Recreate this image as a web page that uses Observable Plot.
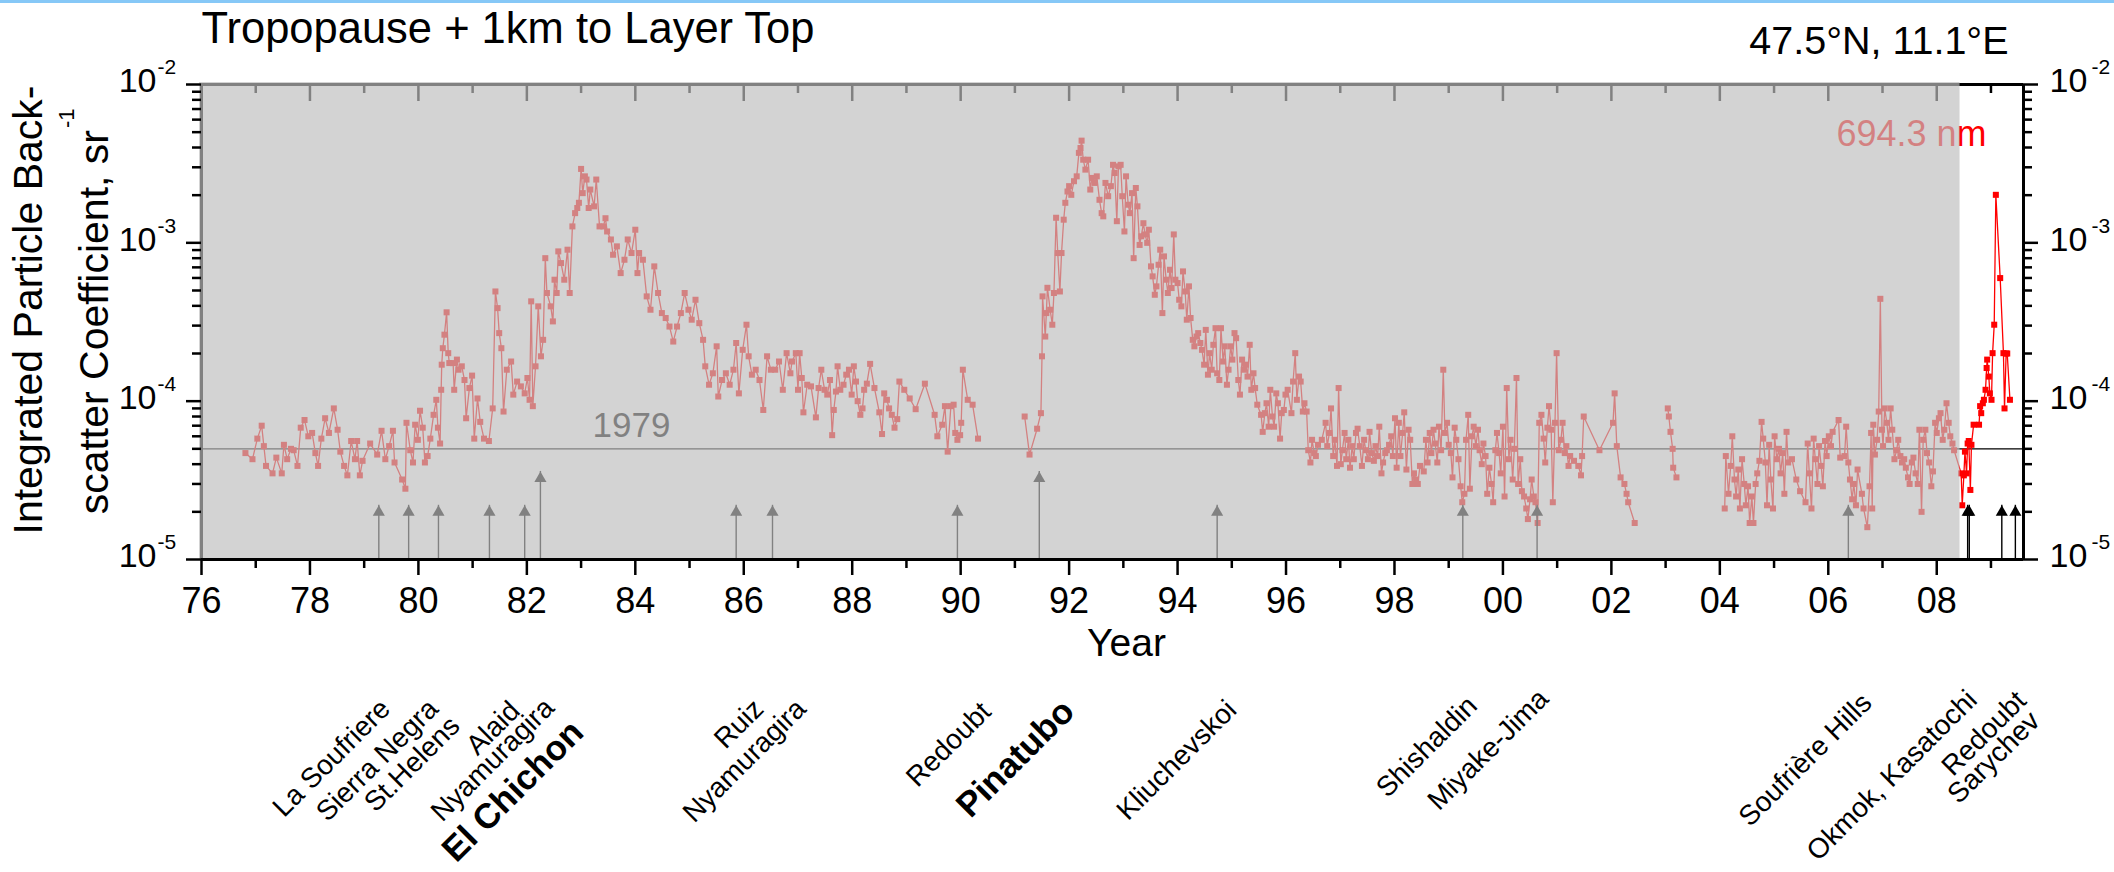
<!DOCTYPE html>
<html>
<head>
<meta charset="utf-8">
<script src="https://cdn.jsdelivr.net/npm/d3@7"></script>
<script src="https://cdn.jsdelivr.net/npm/@observablehq/plot@0.6"></script>
<style>
  html, body { margin: 0; padding: 0; background: #fff; }
  body { width: 2114px; height: 872px; position: relative; overflow: hidden; }
  #chart svg { display: block; }
  #topline { position: absolute; left: 0; top: 0; width: 2114px; height: 3px; background: #86c8f7; }
</style>
</head>
<body>
<div id="chart"></div>
<div id="topline"></div>
<script>
// ---------------------------------------------------------------------------
// Integrated particle backscatter (694.3 nm), tropopause + 1 km to layer top,
// Garmisch-Partenkirchen lidar, 47.5°N 11.1°E.  [decimal year, sr^-1]
// ---------------------------------------------------------------------------
const series1976to1990 = [
  [1976.81,4.7e-5],[1976.94,4.3e-5],[1977.03,5.8e-5],[1977.11,7.0e-5],[1977.15,5.2e-5],[1977.19,3.9e-5],
  [1977.31,3.5e-5],[1977.38,4.4e-5],[1977.48,3.5e-5],[1977.52,5.3e-5],[1977.58,4.3e-5],[1977.65,5.0e-5],
  [1977.70,4.9e-5],[1977.77,3.9e-5],[1977.83,6.8e-5],[1977.90,7.6e-5],[1977.97,6.0e-5],[1978.04,6.3e-5],
  [1978.10,4.7e-5],[1978.15,3.9e-5],[1978.21,5.8e-5],[1978.28,7.8e-5],[1978.35,6.3e-5],[1978.44,9.0e-5],
  [1978.51,6.6e-5],[1978.56,4.8e-5],[1978.63,3.9e-5],[1978.69,3.4e-5],[1978.76,5.6e-5],[1978.83,4.3e-5],
  [1978.87,5.6e-5],[1978.92,3.4e-5],[1978.97,4.2e-5],[1979.11,5.4e-5],[1979.24,4.6e-5],[1979.32,6.5e-5],
  [1979.39,4.3e-5],[1979.46,5.2e-5],[1979.53,6.5e-5],[1979.56,4.1e-5],[1979.70,3.2e-5],[1979.76,2.8e-5],
  [1979.78,7.3e-5],[1979.85,4.9e-5],[1979.90,4.1e-5],[1979.94,7.1e-5],[1979.99,5.7e-5],[1980.03,8.7e-5],
  [1980.08,6.8e-5],[1980.12,4.1e-5],[1980.17,4.5e-5],[1980.22,5.8e-5],[1980.28,8.2e-5],[1980.33,1.02e-4],
  [1980.36,6.8e-5],[1980.40,5.4e-5],[1980.42,1.18e-4],[1980.43,1.70e-4],[1980.45,2.16e-4],[1980.48,2.63e-4],
  [1980.52,3.64e-4],[1980.55,2.01e-4],[1980.57,1.74e-4],[1980.64,1.74e-4],[1980.66,1.18e-4],[1980.71,1.83e-4],
  [1980.74,1.58e-4],[1980.80,1.66e-4],[1980.85,1.36e-4],[1980.88,7.8e-5],[1980.94,1.21e-4],[1980.99,1.45e-4],
  [1981.03,5.8e-5],[1981.09,1.04e-4],[1981.14,7.4e-5],[1981.21,5.8e-5],[1981.30,5.6e-5],[1981.37,9.0e-5],
  [1981.42,4.93e-4],[1981.46,3.87e-4],[1981.49,2.69e-4],[1981.53,2.16e-4],[1981.57,8.6e-5],[1981.63,1.58e-4],
  [1981.71,1.78e-4],[1981.75,1.10e-4],[1981.82,1.33e-4],[1981.89,1.24e-4],[1981.96,1.12e-4],[1982.01,1.40e-4],
  [1982.05,1.02e-4],[1982.08,4.27e-4],[1982.11,9.3e-5],[1982.16,1.66e-4],[1982.21,3.97e-4],[1982.26,1.92e-4],
  [1982.30,2.44e-4],[1982.34,8.0e-4],[1982.37,4.82e-4],[1982.44,3.97e-4],[1982.48,3.19e-4],[1982.51,5.85e-4],
  [1982.55,4.82e-4],[1982.58,8.83e-4],[1982.63,7.45e-4],[1982.69,5.85e-4],[1982.75,9.05e-4],[1982.79,4.82e-4],
  [1982.84,1.27e-3],[1982.89,1.54e-3],[1982.93,1.66e-3],[1982.96,1.79e-3],[1983.00,2.93e-3],[1983.03,2.06e-3],
  [1983.07,2.63e-3],[1983.10,2.51e-3],[1983.14,1.66e-3],[1983.17,2.17e-3],[1983.24,1.70e-3],[1983.28,2.51e-3],
  [1983.34,1.27e-3],[1983.41,1.27e-3],[1983.45,1.43e-3],[1983.48,1.18e-3],[1983.55,1.05e-3],[1983.59,8.41e-4],
  [1983.66,9.5e-4],[1983.73,6.44e-4],[1983.80,7.82e-4],[1983.86,1.05e-3],[1983.93,8.62e-4],[1984.00,1.21e-3],
  [1984.04,6.44e-4],[1984.07,8.62e-4],[1984.14,7.82e-4],[1984.21,4.59e-4],[1984.28,3.78e-4],[1984.35,7.10e-4],
  [1984.42,4.82e-4],[1984.49,3.60e-4],[1984.56,3.35e-4],[1984.63,2.96e-4],[1984.70,2.38e-4],[1984.77,2.96e-4],
  [1984.84,3.60e-4],[1984.91,4.82e-4],[1984.98,3.78e-4],[1985.04,3.27e-4],[1985.11,4.37e-4],[1985.18,3.11e-4],
  [1985.25,2.44e-4],[1985.29,1.66e-4],[1985.36,1.27e-4],[1985.43,1.50e-4],[1985.50,2.22e-4],[1985.53,1.07e-4],
  [1985.60,1.36e-4],[1985.67,1.50e-4],[1985.74,1.27e-4],[1985.81,1.58e-4],[1985.86,2.33e-4],[1985.91,1.12e-4],
  [1985.98,2.11e-4],[1986.05,3.04e-4],[1986.09,1.92e-4],[1986.15,1.47e-4],[1986.22,1.58e-4],[1986.29,1.36e-4],
  [1986.36,8.8e-5],[1986.43,1.92e-4],[1986.50,1.58e-4],[1986.58,1.58e-4],[1986.65,1.78e-4],[1986.72,1.18e-4],
  [1986.79,2.01e-4],[1986.86,1.50e-4],[1986.89,1.78e-4],[1986.96,2.01e-4],[1987.00,1.18e-4],[1987.03,2.01e-4],
  [1987.07,1.40e-4],[1987.10,8.5e-5],[1987.17,1.27e-4],[1987.24,1.24e-4],[1987.33,7.9e-5],[1987.38,1.21e-4],
  [1987.43,1.58e-4],[1987.49,1.18e-4],[1987.54,1.10e-4],[1987.59,1.36e-4],[1987.63,6.1e-5],[1987.66,8.8e-5],
  [1987.70,1.15e-4],[1987.73,1.66e-4],[1987.78,1.18e-4],[1987.84,1.27e-4],[1987.89,1.47e-4],[1987.94,1.58e-4],
  [1987.99,1.10e-4],[1988.03,1.66e-4],[1988.07,1.33e-4],[1988.10,1.00e-4],[1988.15,8.2e-5],[1988.19,9.0e-5],
  [1988.22,1.18e-4],[1988.27,1.29e-4],[1988.33,1.72e-4],[1988.41,1.21e-4],[1988.50,8.5e-5],[1988.55,6.2e-5],
  [1988.59,1.12e-4],[1988.64,1.02e-4],[1988.68,9.0e-5],[1988.73,8.2e-5],[1988.78,6.8e-5],[1988.83,7.7e-5],
  [1988.87,1.33e-4],[1988.96,1.18e-4],[1989.06,1.04e-4],[1989.17,8.9e-5],[1989.34,1.29e-4],[1989.52,8.2e-5],
  [1989.57,6.0e-5],[1989.66,7.1e-5],[1989.71,9.3e-5],[1989.76,4.8e-5],[1989.82,9.3e-5],[1989.87,9.5e-5],
  [1989.90,6.3e-5],[1989.94,5.7e-5],[1989.99,6.1e-5],[1990.01,7.3e-5],[1990.04,1.58e-4],[1990.13,1.02e-4],
  [1990.22,9.5e-5],[1990.32,5.8e-5]
];

const series1991to2002 = [
  [1991.18,8.0e-5],[1991.27,4.6e-5],[1991.41,6.7e-5],[1991.48,8.4e-5],[1991.50,1.92e-4],[1991.51,4.59e-4],
  [1991.56,2.56e-4],[1991.58,3.60e-4],[1991.60,5.2e-4],[1991.65,3.78e-4],[1991.69,3.04e-4],[1991.72,4.82e-4],
  [1991.76,1.44e-3],[1991.79,8.62e-4],[1991.83,4.93e-4],[1991.86,8.62e-4],[1991.90,1.40e-3],[1991.93,1.79e-3],
  [1991.97,2.11e-3],[1992.00,2.28e-3],[1992.04,2.01e-3],[1992.09,2.45e-3],[1992.14,2.63e-3],[1992.18,3.70e-3],
  [1992.21,3.97e-3],[1992.23,4.42e-3],[1992.26,3.35e-3],[1992.30,2.90e-3],[1992.35,3.35e-3],[1992.39,2.17e-3],
  [1992.42,2.57e-3],[1992.47,2.39e-3],[1992.51,2.63e-3],[1992.56,1.87e-3],[1992.60,1.54e-3],[1992.63,1.47e-3],
  [1992.67,2.39e-3],[1992.72,1.97e-3],[1992.77,2.28e-3],[1992.81,3.11e-3],[1992.84,2.76e-3],[1992.88,1.37e-3],
  [1992.91,3.04e-3],[1992.95,3.11e-3],[1992.98,1.97e-3],[1993.02,1.18e-3],[1993.05,2.63e-3],[1993.09,1.74e-3],
  [1993.12,1.54e-3],[1993.16,2.06e-3],[1993.19,8.0e-4],[1993.23,2.22e-3],[1993.26,1.70e-3],[1993.30,9.7e-4],
  [1993.33,1.10e-3],[1993.37,1.33e-3],[1993.40,1.13e-3],[1993.44,1.00e-3],[1993.47,1.21e-3],[1993.51,7.10e-4],
  [1993.54,6.14e-4],[1993.58,4.70e-4],[1993.61,5.31e-4],[1993.65,7.27e-4],[1993.68,9.05e-4],[1993.72,3.60e-4],
  [1993.75,8.21e-4],[1993.79,5.85e-4],[1993.82,4.82e-4],[1993.86,6.76e-4],[1993.89,5.18e-4],[1993.93,1.13e-3],
  [1993.96,5.85e-4],[1994.00,5.57e-4],[1994.03,4.37e-4],[1994.07,3.97e-4],[1994.10,6.6e-4],[1994.14,4.93e-4],
  [1994.17,3.27e-4],[1994.21,5.31e-4],[1994.24,3.35e-4],[1994.28,2.44e-4],[1994.31,2.22e-4],[1994.35,2.56e-4],
  [1994.38,2.69e-4],[1994.42,2.33e-4],[1994.45,2.11e-4],[1994.49,1.70e-4],[1994.52,2.82e-4],[1994.56,1.47e-4],
  [1994.59,2.01e-4],[1994.63,1.58e-4],[1994.66,2.27e-4],[1994.70,2.89e-4],[1994.73,1.50e-4],[1994.77,1.36e-4],
  [1994.80,2.89e-4],[1994.84,1.78e-4],[1994.87,2.22e-4],[1994.91,1.27e-4],[1994.94,1.58e-4],[1994.98,2.22e-4],
  [1995.01,1.83e-4],[1995.05,2.69e-4],[1995.08,2.50e-4],[1995.12,1.36e-4],[1995.15,1.10e-4],[1995.19,1.83e-4],
  [1995.22,1.58e-4],[1995.26,1.70e-4],[1995.29,1.43e-4],[1995.33,2.27e-4],[1995.36,1.18e-4],[1995.40,1.50e-4],
  [1995.43,1.21e-4],[1995.47,9.5e-5],[1995.54,8.2e-5],[1995.57,6.4e-5],[1995.61,8.4e-5],[1995.64,9.7e-5],
  [1995.68,6.9e-5],[1995.71,1.18e-4],[1995.75,8.0e-5],[1995.78,6.9e-5],[1995.82,1.12e-4],[1995.85,9.7e-5],
  [1995.89,5.8e-5],[1995.92,8.4e-5],[1995.96,8.8e-5],[1995.99,1.10e-4],[1996.03,1.18e-4],[1996.10,8.4e-5],
  [1996.13,1.33e-4],[1996.17,2.01e-4],[1996.20,1.02e-4],[1996.24,1.43e-4],[1996.27,1.33e-4],[1996.31,8.6e-5],
  [1996.34,9.7e-5],[1996.38,8.6e-5],[1996.41,4.9e-5],[1996.45,4.1e-5],[1996.48,5.7e-5],[1996.52,4.7e-5],
  [1996.55,4.5e-5],[1996.59,5.3e-5],[1996.66,5.7e-5],[1996.73,7.3e-5],[1996.76,5.2e-5],[1996.80,6.3e-5],
  [1996.83,9.0e-5],[1996.87,4.5e-5],[1996.90,5.7e-5],[1996.94,3.9e-5],[1996.97,1.21e-4],[1997.01,4.0e-5],
  [1997.04,4.9e-5],[1997.08,6.3e-5],[1997.11,4.3e-5],[1997.15,5.7e-5],[1997.18,3.8e-5],[1997.22,5.2e-5],
  [1997.25,4.3e-5],[1997.29,6.3e-5],[1997.32,6.7e-5],[1997.36,5.2e-5],[1997.40,3.9e-5],[1997.44,5.7e-5],
  [1997.47,4.9e-5],[1997.51,4.3e-5],[1997.54,6.4e-5],[1997.58,4.7e-5],[1997.62,4.2e-5],[1997.65,5.2e-5],
  [1997.69,4.5e-5],[1997.72,6.9e-5],[1997.76,3.5e-5],[1997.79,4.1e-5],[1997.83,4.7e-5],[1997.86,4.9e-5],
  [1997.90,5.3e-5],[1997.94,6.0e-5],[1997.97,4.5e-5],[1998.01,7.8e-5],[1998.04,3.8e-5],[1998.08,7.3e-5],
  [1998.11,4.5e-5],[1998.15,6.3e-5],[1998.18,8.5e-5],[1998.22,3.7e-5],[1998.26,6.6e-5],[1998.29,5.7e-5],
  [1998.33,3.0e-5],[1998.36,3.5e-5],[1998.40,3.2e-5],[1998.43,3.0e-5],[1998.47,3.9e-5],[1998.54,3.6e-5],
  [1998.58,5.7e-5],[1998.61,4.1e-5],[1998.65,6.3e-5],[1998.68,4.7e-5],[1998.72,6.6e-5],[1998.75,5.4e-5],
  [1998.79,4.1e-5],[1998.82,6.9e-5],[1998.86,4.9e-5],[1998.90,1.58e-4],[1998.93,6.3e-5],[1998.97,7.3e-5],
  [1999.00,5.3e-5],[1999.04,4.7e-5],[1999.07,3.3e-5],[1999.11,6.8e-5],[1999.14,5.7e-5],[1999.18,4.3e-5],
  [1999.22,2.9e-5],[1999.25,2.3e-5],[1999.29,2.6e-5],[1999.32,5.7e-5],[1999.36,8.2e-5],[1999.39,2.8e-5],
  [1999.43,6.0e-5],[1999.46,6.9e-5],[1999.50,5.2e-5],[1999.54,6.6e-5],[1999.57,4.9e-5],[1999.61,4.0e-5],
  [1999.64,5.4e-5],[1999.68,4.5e-5],[1999.71,2.6e-5],[1999.75,3.8e-5],[1999.79,3.0e-5],[1999.82,2.3e-5],
  [1999.86,4.9e-5],[1999.89,6.3e-5],[1999.93,4.7e-5],[1999.96,3.5e-5],[2000.00,6.9e-5],[2000.03,2.5e-5],
  [2000.07,1.21e-4],[2000.11,4.3e-5],[2000.14,5.7e-5],[2000.18,3.2e-5],[2000.21,5.0e-5],[2000.25,1.40e-4],
  [2000.28,3.0e-5],[2000.32,4.3e-5],[2000.35,2.7e-5],[2000.39,2.5e-5],[2000.43,2.1e-5],[2000.46,1.8e-5],
  [2000.50,2.4e-5],[2000.53,3.2e-5],[2000.57,2.5e-5],[2000.60,2.3e-5],[2000.64,1.7e-5],[2000.67,7.3e-5],
  [2000.71,8.2e-5],[2000.75,5.8e-5],[2000.78,4.1e-5],[2000.82,6.8e-5],[2000.85,9.3e-5],[2000.89,6.6e-5],
  [2000.92,2.3e-5],[2000.96,7.3e-5],[2000.99,2.01e-4],[2001.03,4.9e-5],[2001.07,5.7e-5],[2001.10,7.3e-5],
  [2001.14,4.7e-5],[2001.17,5.2e-5],[2001.21,3.9e-5],[2001.24,4.5e-5],[2001.31,4.2e-5],[2001.39,3.9e-5],
  [2001.44,3.4e-5],[2001.46,4.5e-5],[2001.49,8.0e-5],[2001.78,4.9e-5],[2002.03,7.3e-5],[2002.06,1.12e-4],
  [2002.10,5.2e-5],[2002.17,3.3e-5],[2002.24,3.0e-5],[2002.28,2.6e-5],[2002.31,2.3e-5],[2002.43,1.7e-5]
];

const series2003 = [
  [2003.04,9.0e-5],[2003.06,8.0e-5],[2003.09,6.4e-5],[2003.13,5.0e-5],[2003.14,3.8e-5],[2003.20,3.3e-5]
];

const series2004to2009 = [
  [2004.09,2.1e-5],[2004.11,4.5e-5],[2004.16,2.6e-5],[2004.20,3.9e-5],[2004.23,6.0e-5],[2004.27,3.2e-5],
  [2004.30,2.5e-5],[2004.34,3.7e-5],[2004.37,2.1e-5],[2004.41,4.3e-5],[2004.45,3.0e-5],[2004.48,2.2e-5],
  [2004.52,2.9e-5],[2004.55,1.7e-5],[2004.59,2.5e-5],[2004.62,1.7e-5],[2004.66,3.0e-5],[2004.69,3.5e-5],
  [2004.73,4.2e-5],[2004.77,7.4e-5],[2004.80,5.8e-5],[2004.84,4.1e-5],[2004.87,2.2e-5],[2004.91,5.3e-5],
  [2004.94,3.2e-5],[2004.98,2.1e-5],[2005.01,6.0e-5],[2005.05,4.3e-5],[2005.09,5.0e-5],[2005.12,3.5e-5],
  [2005.16,4.7e-5],[2005.19,2.6e-5],[2005.23,6.4e-5],[2005.26,4.1e-5],[2005.33,4.3e-5],[2005.41,3.2e-5],
  [2005.48,2.7e-5],[2005.58,2.3e-5],[2005.62,5.4e-5],[2005.65,3.5e-5],[2005.69,2.1e-5],[2005.73,5.8e-5],
  [2005.76,4.3e-5],[2005.80,3.0e-5],[2005.83,5.2e-5],[2005.87,3.9e-5],[2005.90,2.9e-5],[2005.94,5.6e-5],
  [2005.97,4.5e-5],[2006.01,6.0e-5],[2006.05,5.2e-5],[2006.08,6.4e-5],[2006.19,7.6e-5],[2006.22,4.4e-5],
  [2006.30,4.5e-5],[2006.33,6.9e-5],[2006.37,4.1e-5],[2006.40,3.2e-5],[2006.44,2.4e-5],[2006.47,3.0e-5],
  [2006.51,2.2e-5],[2006.54,3.7e-5],[2006.62,2.6e-5],[2006.65,2.1e-5],[2006.72,1.6e-5],[2006.76,2.9e-5],
  [2006.79,6.3e-5],[2006.81,2.1e-5],[2006.83,7.1e-5],[2006.86,4.6e-5],[2006.90,5.7e-5],[2006.93,8.6e-5],
  [2006.96,4.43e-4],[2006.99,6.6e-5],[2007.01,5.2e-5],[2007.04,9.0e-5],[2007.08,7.3e-5],[2007.11,5.7e-5],
  [2007.15,9.0e-5],[2007.18,6.6e-5],[2007.22,4.3e-5],[2007.26,4.9e-5],[2007.29,5.7e-5],[2007.33,4.5e-5],
  [2007.36,4.1e-5],[2007.40,4.3e-5],[2007.43,3.8e-5],[2007.47,3.3e-5],[2007.50,3.0e-5],[2007.54,4.1e-5],
  [2007.57,4.4e-5],[2007.61,3.5e-5],[2007.65,3.0e-5],[2007.68,6.6e-5],[2007.72,2.0e-5],[2007.75,5.7e-5],
  [2007.79,6.6e-5],[2007.82,4.7e-5],[2007.86,4.1e-5],[2007.90,2.9e-5],[2007.93,3.6e-5],[2007.97,7.3e-5],
  [2008.00,6.3e-5],[2008.04,7.8e-5],[2008.07,8.4e-5],[2008.11,5.7e-5],[2008.14,6.6e-5],[2008.18,9.7e-5],
  [2008.22,7.3e-5],[2008.25,6.0e-5],[2008.29,5.4e-5],[2008.32,4.9e-5],[2008.45,3.5e-5],[2008.47,2.2e-5],
  [2008.50,3.4e-5],[2008.52,4.8e-5],[2008.55,3.5e-5],[2008.57,5.4e-5],[2008.59,5.6e-5],[2008.62,2.75e-5],
  [2008.64,5.3e-5],[2008.68,7.1e-5],[2008.78,7.1e-5],[2008.80,9.3e-5],[2008.82,8.4e-5],[2008.85,9.7e-5],
  [2008.87,1.02e-4],[2008.90,1.18e-4],[2008.92,1.62e-4],[2008.93,1.83e-4],[2008.96,1.43e-4],[2008.98,1.12e-4],
  [2009.01,1.02e-4],[2009.03,2.01e-4],[2009.06,3.04e-4],[2009.09,2.01e-3],[2009.17,5.99e-4],[2009.23,2.01e-4],
  [2009.25,9.0e-5],[2009.28,2.0e-4],[2009.30,2.0e-4],[2009.35,1.02e-4]
];

// Background level of 1979 (horizontal reference line)
const background1979 = 5e-5;
// End of the shaded period
const shadeEnd = 2008.43;

// Eruptions marked by arrows
const eruptionNames = ["La Soufriere","Sierra Negra","St.Helens","Alaid","Nyamuragira","El Chichon",
  "Ruiz","Nyamuragira","Redoubt","Pinatubo","Kliuchevskoi","Shishaldin","Miyake-Jima",
  "Soufrière Hills","Okmok","Kasatochi","Redoubt","Sarychev"];
const eruptionYears = [1979.27,1979.82,1980.37,1981.31,1981.96,1982.25,1985.86,1986.53,1989.94,
  1991.45,1994.73,1999.26,2000.63,2006.37,2008.57,2008.60,2009.20,2009.45];
const arrowTips = [2.2e-5,2.2e-5,2.2e-5,2.2e-5,2.2e-5,3.6e-5,2.2e-5,2.2e-5,2.2e-5,
  3.6e-5,2.2e-5,2.2e-5,2.2e-5,2.2e-5,2.2e-5,2.2e-5,2.2e-5,2.2e-5];

// Eruption captions below the axis
const captionTexts = ["La Soufriere","Sierra Negra","St.Helens","Alaid","Nyamuragira","El Chichon",
  "Ruiz","Nyamuragira","Redoubt","Pinatubo","Kliuchevskoi","Shishaldin","Miyake-Jima",
  "Soufrière Hills","Okmok, Kasatochi","Redoubt","Sarychev"];
const captionYears = [1979.27,1979.82,1980.37,1981.31,1981.96,1982.25,1985.86,1986.53,1989.94,
  1991.45,1994.73,1999.26,2000.63,2006.37,2008.57,2009.20,2009.45];
const majorEruptions = ["El Chichon","Pinatubo"];

// Axis ticks
const xMin = 1976, xMax = 2009.6;
const yearTicks = [1976,1978,1980,1982,1984,1986,1988,1990,1992,1994,1996,1998,2000,2002,2004,2006,2008];
const yearMinorTicks = [1977,1979,1981,1983,1985,1987,1989,1991,1993,1995,1997,1999,2001,2003,2005,2007,2009];
const decades = [1e-5, 1e-4, 1e-3, 1e-2];

// ---------------------------------------------------------------------------
const obs = [
  ["a", series1976to1990], ["b", series1991to2002], ["c", series2003], ["d", series2004to2009]
].flatMap(([segment, rows]) => rows.map(([year, value]) => ({segment, year, value})));

const eruptions = eruptionNames.map((name, i) => ({name, year: eruptionYears[i], tip: arrowTips[i]}));
const captions = captionTexts.map((name, i) => ({name, year: captionYears[i], major: majorEruptions.includes(name)}));

const minorDecadeTicks = decades.slice(0, 3).flatMap(d => [2,3,4,5,6,7,8,9].map(k => k * d));

const W = 2114, H = 872;
const mTop = 84, mBottom = 313, mLeft = 201, mRight = 91;
const innerH = H - mTop - mBottom;
const innerW = W - mLeft - mRight;
const FONT = "'Liberation Sans', Arial, Helvetica, sans-serif";

// caption placement: offset of the text end from the arrow foot [dx, dy]
const captionNudge = [[13,151],[31,151],[23,168],[32,153],[31,150],[45,175],[29,151],[35,151],
  [35,154],[37,154],[21,152],[16,148],[13,141],[25,145],[11,142],[26,143],[26,163]];

const captionMarks = captions.map((c, i) => Plot.text([c], {
  x: "year", text: "name", frameAnchor: "bottom", rotate: -45,
  textAnchor: "end", lineAnchor: "bottom",
  dx: captionNudge[i][0], dy: captionNudge[i][1],
  fontSize: c.major ? 35 : 28, fontWeight: c.major ? "bold" : "normal", fill: "#000"
}));

// tick helpers: short rules pinned to one edge of the frame
const tick = {stroke: "#000", strokeWidth: 2.5};
const topTicks = (vals, len) => Plot.ruleX(vals, {...tick, insetBottom: innerH - len});
const bottomTicks = (vals, len) => Plot.ruleX(vals, {...tick, insetTop: innerH, insetBottom: -len});
const leftTicks = (vals, len) => Plot.ruleY(vals, {...tick, insetRight: innerW, insetLeft: -len});
const rightTicks = (vals, len) => Plot.ruleY(vals, {...tick, insetLeft: innerW, insetRight: -len});

const chart = Plot.plot({
  width: W, height: H,
  marginTop: mTop, marginBottom: mBottom, marginLeft: mLeft, marginRight: mRight,
  style: {fontFamily: FONT, background: "#fff", overflow: "visible"},
  x: {domain: [xMin, xMax], axis: null},
  y: {type: "log", domain: [1e-5, 1e-2], axis: null},
  marks: [
    // frame edges (partly under the shading)
    Plot.ruleY([1e-2], {stroke: "#000", strokeWidth: 3}),
    Plot.ruleX([xMin], {stroke: "#000", strokeWidth: 3}),
    // inward ticks on the top edge
    topTicks(yearTicks, 17),
    topTicks(yearMinorTicks, 9),
    // 1979 background level
    Plot.ruleY([background1979], {stroke: "#000", strokeWidth: 1.2}),
    Plot.text(["1979"], {y: [background1979], frameAnchor: "left", text: d => d,
      textAnchor: "middle", lineAnchor: "bottom", dx: 430, dy: -12, fontSize: 35, fill: "#000"}),
    // measurements
    Plot.line(obs, {x: "year", y: "value", z: "segment", stroke: "#ff0000", strokeWidth: 1.3}),
    Plot.dot(obs, {x: "year", y: "value", symbol: "square", r: 3.4, fill: "#ff0000", stroke: "none"}),
    Plot.text(["694.3 nm"], {frameAnchor: "top-right", text: d => d, textAnchor: "end",
      lineAnchor: "bottom", dx: -37, dy: 61, fontSize: 36, fill: "#ff0000"}),
    // eruption arrows
    Plot.ruleX(eruptions, {x: "year", y1: () => 1e-5, y2: "tip", stroke: "#000", strokeWidth: 1.4}),
    Plot.dot(eruptions, {x: "year", y: "tip", symbol: "triangle", r: 4.5, fill: "#000", stroke: "none", dy: 7}),
    // translucent shading over the earlier period
    Plot.rect([shadeEnd], {x1: () => xMin, x2: d => d, y1: () => 1e-5, y2: () => 1e-2,
      fill: "rgb(190,190,190)", fillOpacity: 0.68, insetLeft: -2, insetTop: -2}),
    // bottom and right edges
    Plot.ruleY([1e-5], {stroke: "#000", strokeWidth: 3}),
    Plot.ruleX([xMax], {stroke: "#000", strokeWidth: 3}),
    // outward ticks
    bottomTicks(yearTicks, 16),
    bottomTicks(yearMinorTicks, 9),
    leftTicks(decades, 15),
    leftTicks(minorDecadeTicks, 9),
    rightTicks(decades, 15),
    rightTicks(minorDecadeTicks, 9),
    // year labels
    Plot.axisX(yearTicks, {anchor: "bottom", tickSize: 0, tickPadding: 28,
      tickFormat: d => String(d % 100).padStart(2, "0"), fontSize: 36, color: "#000", label: null}),
    // power-of-ten tick labels
    Plot.text(decades, {y: d => d, frameAnchor: "left", text: () => "10", textAnchor: "end",
      dx: -45, dy: -3, fontSize: 34, fill: "#000"}),
    Plot.text(decades, {y: d => d, frameAnchor: "left", text: d => String(Math.round(Math.log10(d))),
      textAnchor: "start", dx: -44, dy: -17, fontSize: 21, fill: "#000"}),
    Plot.text(decades, {y: d => d, frameAnchor: "right", text: () => "10", textAnchor: "start",
      dx: 26, dy: -3, fontSize: 34, fill: "#000"}),
    Plot.text(decades, {y: d => d, frameAnchor: "right", text: d => String(Math.round(Math.log10(d))),
      textAnchor: "start", dx: 68, dy: -17, fontSize: 21, fill: "#000"}),
    // axis titles
    Plot.text(["Year"], {frameAnchor: "bottom", text: d => d, textAnchor: "middle", lineAnchor: "bottom",
      dx: 14, dy: 96, fontSize: 39, fill: "#000"}),
    Plot.text(["Integrated Particle Back-"], {frameAnchor: "left", text: d => d, rotate: -90,
      textAnchor: "middle", lineAnchor: "bottom", dx: -160, dy: -12, fontSize: 41, fill: "#000"}),
    Plot.text(["scatter Coefficient, sr"], {frameAnchor: "left", text: d => d, rotate: -90,
      textAnchor: "end", lineAnchor: "bottom", dx: -94, dy: -192, fontSize: 41, fill: "#000"}),
    Plot.text(["-1"], {frameAnchor: "left", text: d => d, rotate: -90,
      textAnchor: "start", lineAnchor: "bottom", dx: -128, dy: -194, fontSize: 22, fill: "#000"}),
    // headings
    Plot.text(["Tropopause + 1km to Layer Top"], {frameAnchor: "top-left", text: d => d,
      textAnchor: "start", lineAnchor: "bottom", dx: 0, dy: -42, fontSize: 43.5, fill: "#000"}),
    Plot.text(["47.5°N, 11.1°E"], {frameAnchor: "top-right", text: d => d,
      textAnchor: "end", lineAnchor: "bottom", dx: -15, dy: -31, fontSize: 39.5, fill: "#000"}),
    // eruption captions
    ...captionMarks
  ]
});

document.getElementById("chart").append(chart);
</script>
</body>
</html>
